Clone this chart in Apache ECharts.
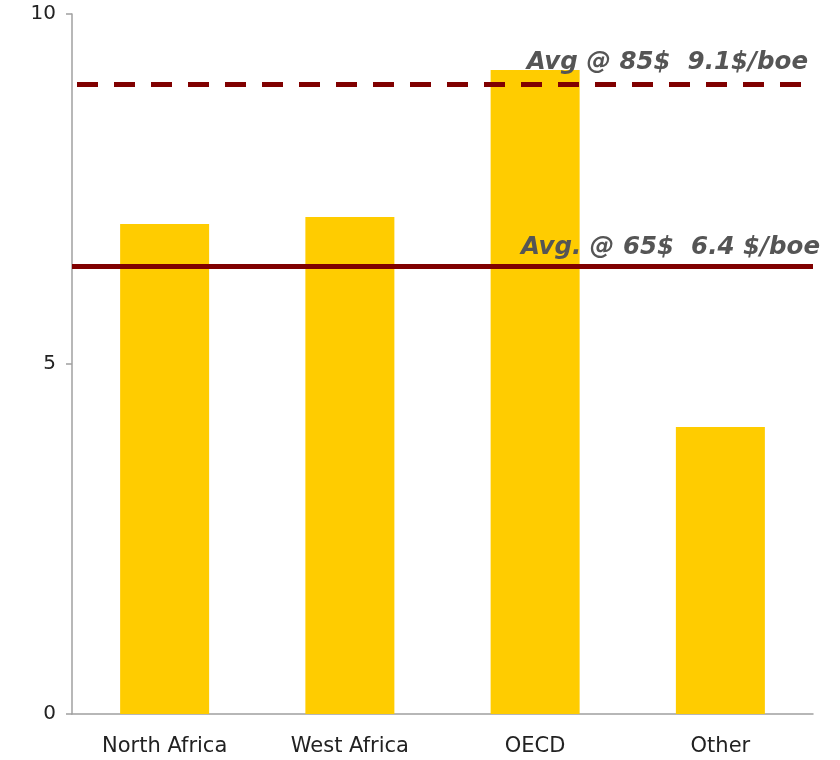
<!DOCTYPE html>
<html>
<head>
<meta charset="utf-8">
<script src="https://cdn.jsdelivr.net/npm/echarts@6/dist/echarts.min.js"></script>
<style>
  html, body { margin: 0; padding: 0; background: #fff; }
  #chart { width: 840px; height: 760px; }
</style>
</head>
<body>
<div id="chart"></div>
<script>
// data
var regions = ['North Africa', 'West Africa', 'OECD', 'Other']
var costs = [7.0, 7.1, 9.2, 4.1]
var avgValues = [9.0, 6.4]
var avgLabels = ['Avg @ 85$  9.1$/boe', 'Avg. @ 65$  6.4 $/boe']

var myChart = echarts.init(document.getElementById('chart'))

var labelStyle = {
  color: '#555',
  fontFamily: 'DejaVu Sans',
  fontSize: 24.5,
  fontWeight: 'bold',
  fontStyle: 'italic'
}

var option = {
  animation: false,
  grid: { left: 72, right: 27, top: 14, bottom: 46 },
  xAxis: {
    type: 'category',
    data: regions,
    axisLine: { lineStyle: { color: '#a0a0a0', width: 1.5 } },
    axisTick: { inside: true, length: 7, lineStyle: { color: '#a0a0a0', width: 1.5 } },
    axisLabel: { color: '#222', fontFamily: 'DejaVu Sans', fontSize: 21, margin: 22 }
  },
  yAxis: {
    type: 'value',
    min: 0,
    max: 10,
    interval: 5,
    splitLine: { show: false },
    axisLine: { show: true, lineStyle: { color: '#a0a0a0', width: 1.5 } },
    axisTick: { show: true, length: 6, lineStyle: { color: '#a0a0a0', width: 1.5 } },
    axisLabel: { color: '#222', fontFamily: 'DejaVu Sans', fontSize: 20, margin: 16 }
  },
  series: [
    {
      type: 'bar',
      data: costs,
      barWidth: 89,
      itemStyle: { color: '#FFCC00' },
      markLine: {
        silent: true,
        symbol: 'none',
        data: [
          {
            yAxis: avgValues[0],
            lineStyle: { color: '#800000', width: 5, type: [21, 16], dashOffset: -5 },
            label: Object.assign({
              position: 'insideEndTop',
              formatter: avgLabels[0],
              distance: [5, 9]
            }, labelStyle)
          },
          {
            yAxis: avgValues[1],
            lineStyle: { color: '#800000', width: 5, type: 'solid' },
            label: Object.assign({
              position: 'insideEndTop',
              formatter: avgLabels[1],
              distance: [-7, 6]
            }, labelStyle)
          }
        ]
      }
    }
  ]
}

myChart.setOption(option)
</script>
</body>
</html>
